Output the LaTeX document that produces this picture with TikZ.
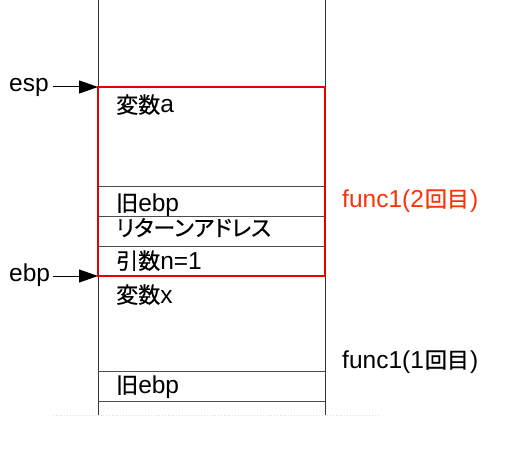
\documentclass[tikz,border=0pt]{standalone}
\usepackage{fontspec}
\setmainfont{Liberation Sans}
\newfontfamily\cjk[Scale=0.9,FakeBold=0.6]{Noto Sans CJK JP}
\newfontfamily\cjkp[Scale=0.9,FakeBold=0.6,RawFeature=+palt]{Noto Sans CJK JP}
\usetikzlibrary{arrows.meta}
\definecolor{boxred}{RGB}{230,0,0}
\definecolor{labred}{RGB}{250,50,10}
\begin{document}
\begin{tikzpicture}[x=1pt,y=-1pt,
  lbl/.style={anchor=base west,inner sep=0pt,font=\fontsize{24.5}{28}\selectfont},
  wall/.style={draw=black!80,line width=1pt},
  rule/.style={draw=black!70,line width=0.9pt},
  frame/.style={draw=boxred,line width=1.5pt},
  ptr/.style={draw=black,line width=1pt,-{Triangle[length=19pt,width=13pt]}}]
\useasboundingbox (0,0) rectangle (510,454);
% faint bottom edge
\draw[black!12,dotted,line width=0.8pt] (53,415) -- (378,415);
% stack walls
\coordinate (wl0) at (98,0);
\coordinate (wl1) at (98,415);
\coordinate (wr0) at (325,0);
\coordinate (wr1) at (325,415);
\draw[wall] (wl0) -- (wl1);
\draw[wall] (wr0) -- (wr1);
% cell separators
\foreach \yy in {186,216,246,371,401}
  \draw[rule] (98,\yy) -- (325,\yy);
% frame of func1 (2nd)
\coordinate (ftl) at (98,87);
\coordinate (fbl) at (98,276);
\draw[frame] (ftl) rectangle (325,276);
% cell texts
\node[lbl] (va) at (116,113) {{\cjk 変数}a};
\node[lbl] (ob1) at (116,211) {{\cjk 旧}ebp};
\node[lbl] (ret) at (116,236) {\cjkp リターンアドレス};
\node[lbl] (arg) at (116,269) {{\cjk 引数}n=1};
\node[lbl] (vx) at (116,303) {{\cjk 変数}x};
\node[lbl] (ob2) at (116,393) {{\cjk 旧}ebp};
% frame labels
\node[lbl,text=labred] (f2) at (342,207) {func1(2\hspace{1pt}{\cjk 回目}\hspace{1pt})};
\node[lbl] (f1) at (342,368) {func1(1\hspace{1pt}{\cjk 回目}\hspace{1pt})};
% pointers
\node[lbl] (esp) at (9,92) {esp};
\node[lbl] (ebp) at (9,281) {ebp};
\coordinate (espfrom) at (53,87);
\coordinate (ebpfrom) at (53,276);
\draw[ptr] (espfrom) -- (ftl);
\draw[ptr] (ebpfrom) -- (fbl);
\end{tikzpicture}
\end{document}
